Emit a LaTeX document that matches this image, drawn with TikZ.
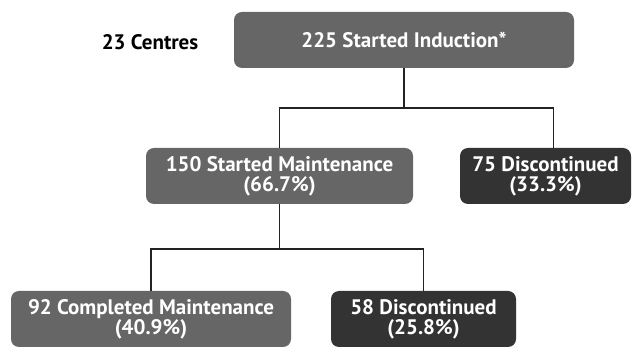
\documentclass[tikz,border=0pt]{standalone}
\usepackage{fontspec}
\setmainfont{PT Sans}
\definecolor{boxmid}{HTML}{666666}
\definecolor{boxdark}{HTML}{333333}
\definecolor{linec}{HTML}{222222}
\begin{document}
\begin{tikzpicture}[x=1pt,y=1pt,
  txt/.style={font=\fontsize{21}{20}\selectfont\bfseries},
  box/.style={txt, rounded corners=8pt, text=white, align=center, inner sep=0pt},
  midbox/.style={box, fill=boxmid},
  darkbox/.style={box, fill=boxdark},
  conn/.style={draw=linec, line width=1.5pt}]
\useasboundingbox (0,0) rectangle (639,347);
% boxes (pixel coordinates, y flipped)
\node[midbox, minimum width=340pt, minimum height=56pt] (top) at (404,307) {225 Started Induction*};
\node[txt, text=black] (centres) at (150,305) {23 Centres};
\node[midbox, minimum width=267pt, minimum height=56pt] (ml) at (279.5,171) {150 Started Maintenance\\(66.7\%)};
\node[darkbox, minimum width=171pt, minimum height=56pt] (mr) at (545.5,171) {75 Discontinued\\(33.3\%)};
\node[midbox, minimum width=280pt, minimum height=56pt] (bl) at (151,28) {92 Completed Maintenance\\(40.9\%)};
\node[darkbox, minimum width=185pt, minimum height=56pt] (br) at (423.5,28) {58 Discontinued\\(25.8\%)};
% connectors
\draw[conn] (top.south) -- ++(0,-40) coordinate (j1);
\draw[conn] (j1) -| (ml.north);
\draw[conn] (j1) -| ([xshift=8pt]mr.north);
\draw[conn] (ml.south) -- ++(0,-45) coordinate (j2);
\draw[conn] (j2) -| (bl.north);
\draw[conn] (j2) -| (br.north);
\end{tikzpicture}
\end{document}
